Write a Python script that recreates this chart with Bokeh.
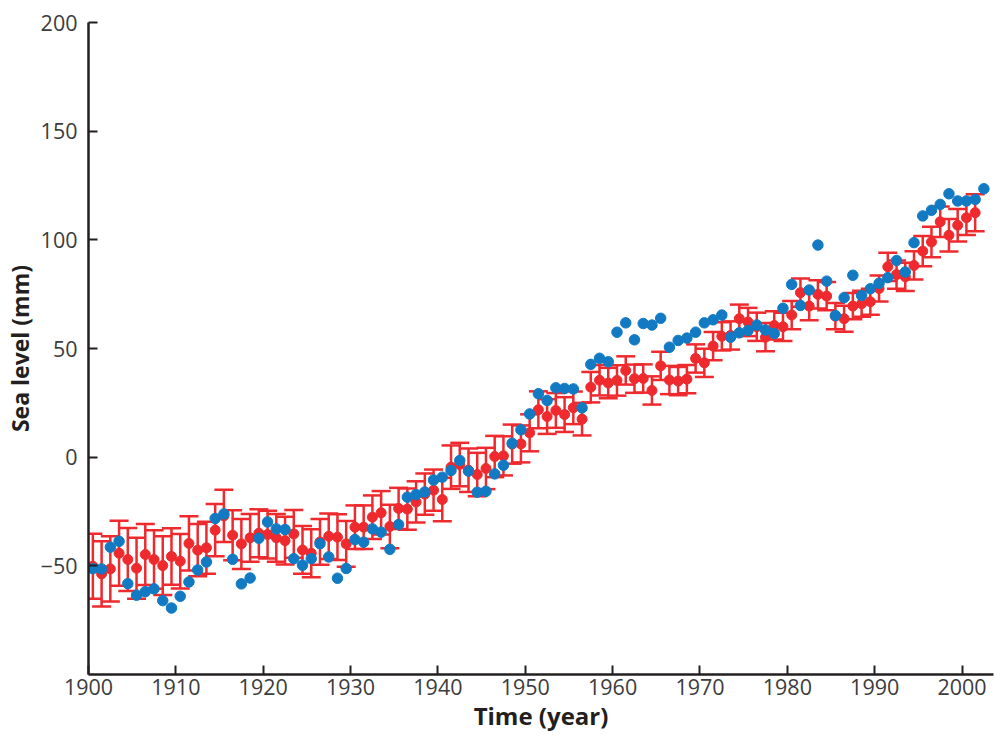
from bokeh.plotting import figure
from bokeh.models import ColumnDataSource, Range1d, FixedTicker, Whisker, TeeHead
from bokeh.embed import file_html
from bokeh.resources import INLINE

# ---------------- data ----------------
red_years = list(range(1900, 2002))
red_values = [
    -50.2, -53.7, -51.4, -44.2, -47.1, -51.1, -44.8, -47.1, -49.9, -45.7,
    -47.9, -39.7, -42.8, -41.7, -33.6, -27.0, -35.9, -39.9, -37.1, -35.0,
    -35.6, -37.1, -38.4, -35.3, -42.7, -44.2, -39.0, -36.4, -36.8, -39.9,
    -32.2, -32.2, -27.6, -25.6, -31.9, -23.6, -23.9, -20.6, -17.0, -15.2,
    -19.5, -4.6, -3.4, -6.0, -8.0, -5.2, 0.3, 0.6, 6.0, 6.1,
    11.2, 21.8, 18.7, 21.5, 19.6, 22.7, 17.5, 32.2, 35.4, 34.1,
    35.3, 39.9, 36.1, 36.2, 30.7, 42.0, 35.5, 35.0, 35.9, 45.4,
    43.4, 51.1, 55.6, 56.0, 63.7, 62.2, 60.0, 55.2, 60.6, 60.0,
    65.4, 75.7, 69.5, 74.9, 74.1, 64.9, 63.7, 69.5, 70.6, 71.5,
    77.6, 87.6, 84.0, 83.0, 88.2, 94.8, 99.0, 108.3, 102.1, 106.7,
    110.2, 112.5,
]
red_errors = [
    15, 15, 15, 15, 14.5, 14, 14, 13.5, 13.5, 13,
    12.5, 12.5, 12, 12, 12, 12, 11.5, 11.5, 11, 11,
    11, 11, 11, 11, 11, 11, 10.5, 10.5, 10.5, 10.5,
    10, 10, 10, 10, 10, 9.5, 9.5, 9.5, 9.5, 9.5,
    10, 10, 10, 10, 10, 9.5, 9.5, 9, 9, 8.5,
    8.5, 8.5, 8, 8, 8, 7.5, 7.5, 7, 7, 7,
    7, 6.5, 6.5, 6.5, 6.5, 6.5, 6.5, 6.5, 6.5, 6.5,
    6.5, 6.5, 6.5, 6.5, 6.5, 6.5, 6.5, 6.5, 6.5, 6.5,
    6.5, 6.5, 6.5, 6.5, 6.5, 6, 6, 6, 6, 6,
    6, 6.5, 6.5, 6.5, 6.5, 7, 7, 7, 7.5, 7.5,
    8, 8.5,
]

blue_years = list(range(1900, 2003))
blue_values = [
    -51.3, -51.4, -41.4, -38.7, -58.2, -63.5, -61.9, -60.6, -66.0, -69.4,
    -64.0, -57.4, -51.9, -48.2, -28.2, -26.1, -47.0, -58.3, -55.6, -37.3,
    -29.8, -33.0, -33.3, -46.7, -49.7, -46.7, -39.8, -45.9, -55.7, -51.2,
    -37.9, -39.1, -33.0, -34.5, -42.4, -31.0, -18.4, -17.2, -16.0, -10.5,
    -9.2, -6.1, -1.5, -6.4, -16.1, -15.7, -7.7, -3.7, 6.4, 12.6,
    19.9, 29.2, 26.1, 31.9, 31.6, 31.4, 22.7, 42.7, 45.5, 43.9,
    57.5, 61.8, 54.0, 61.5, 60.8, 63.9, 50.6, 53.7, 54.8, 57.5,
    61.8, 63.2, 65.4, 55.2, 57.2, 58.3, 60.8, 58.5, 56.9, 68.5,
    79.5, 69.8, 76.9, 97.6, 81.0, 65.2, 73.4, 83.7, 74.4, 77.5,
    80.0, 82.6, 90.5, 85.2, 98.7, 111.0, 113.6, 116.3, 121.2, 117.9,
    117.9, 118.6, 123.5,
]

x_ticks = [1900, 1910, 1920, 1930, 1940, 1950, 1960, 1970, 1980, 1990, 2000]
y_ticks = [-50, 0, 50, 100, 150, 200]
y_tick_labels = ["\u221250", "0", "50", "100", "150", "200"]

# annual means are plotted at mid-year
red_src = ColumnDataSource(dict(
    x=[y + 0.5 for y in red_years],
    y=red_values,
    upper=[v + e for v, e in zip(red_values, red_errors)],
    lower=[v - e for v, e in zip(red_values, red_errors)],
))
blue_src = ColumnDataSource(dict(x=[y + 0.5 for y in blue_years], y=blue_values))

RED = "#ee2a2e"
BLUE = "#127ac3"
FONT = "Open Sans"

p = figure(width=995, height=735, output_backend="svg", toolbar_location=None,
           x_range=Range1d(1900, 2003.6), y_range=Range1d(-100, 200),
           min_border_left=87, min_border_right=2, min_border_top=22, min_border_bottom=61)
p.outline_line_color = None
p.grid.visible = False
p.background_fill_color = "white"
p.border_fill_color = "white"

w = Whisker(source=red_src, base="x", upper="upper", lower="lower", dimension="height",
            line_color=RED, line_width=2.5,
            upper_head=TeeHead(size=19, line_color=RED, line_width=2.5),
            lower_head=TeeHead(size=19, line_color=RED, line_width=2.5))
p.add_layout(w)
p.scatter("x", "y", source=red_src, size=10, color=RED, line_color=RED)
p.scatter("x", "y", source=blue_src, size=10.5, color=BLUE, line_color=BLUE)

for ax in (p.xaxis[0], p.yaxis[0]):
    ax.axis_line_color = "#231f20"
    ax.axis_line_width = 2.5
    ax.major_tick_line_color = "#231f20"
    ax.major_tick_line_width = 2
    ax.major_tick_in = 9
    ax.major_tick_out = 0
    ax.minor_tick_line_color = None
    ax.major_label_text_font = FONT
    ax.major_label_text_font_size = "21.5px"
    ax.major_label_text_color = "#3c3c3c"
    ax.axis_label_text_font = FONT
    ax.axis_label_text_font_style = "bold"
    ax.axis_label_text_color = "#231f20"

p.xaxis.axis_label_text_font_size = "24px"
p.yaxis.axis_label_text_font_size = "23px"
p.xaxis.ticker = FixedTicker(ticks=x_ticks)
p.yaxis.ticker = FixedTicker(ticks=y_ticks)
p.yaxis.major_label_overrides = {t: s for t, s in zip(y_ticks, y_tick_labels)}
p.xaxis.axis_label = "Time (year)"
p.yaxis.axis_label = "Sea level (mm)"
p.xaxis.major_label_standoff = 4
p.yaxis.major_label_standoff = 11
p.xaxis.axis_label_standoff = 1
p.yaxis.axis_label_standoff = 2

open("out.html", "w").write(file_html(p, INLINE))
